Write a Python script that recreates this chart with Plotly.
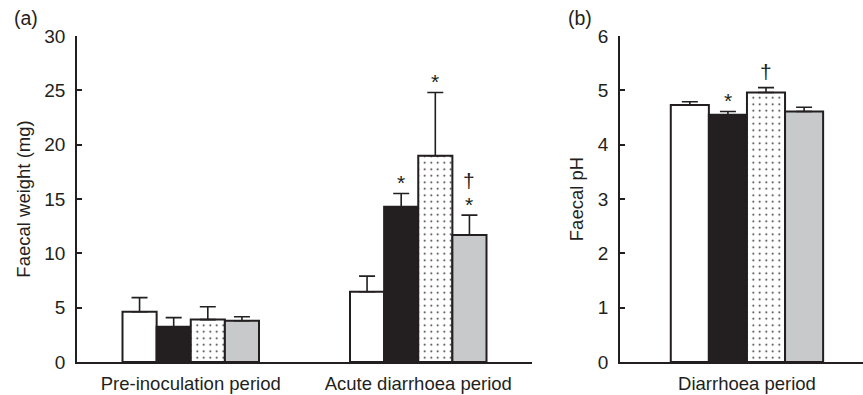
import plotly.graph_objects as go

# ---------------- data ----------------
groups_a = ["Pre-inoculation period", "Acute diarrhoea period"]
groups_b = ["Diarrhoea period"]
series = ["Group 1", "Group 2", "Group 3", "Group 4"]

weight_mean = {
    "Group 1": [4.63, 6.47],
    "Group 2": [3.25, 14.29],
    "Group 3": [3.90, 18.98],
    "Group 4": [3.80, 11.68],
}
weight_err = {
    "Group 1": [1.29, 1.43],
    "Group 2": [0.83, 1.21],
    "Group 3": [1.19, 5.82],
    "Group 4": [0.37, 1.84],
}
ph_mean = {"Group 1": [4.73], "Group 2": [4.55], "Group 3": [4.96], "Group 4": [4.61]}
ph_err = {"Group 1": [0.06], "Group 2": [0.06], "Group 3": [0.09], "Group 4": [0.08]}

# significance marks: (panel, group index, series index, symbol)
marks = [
    ("a", 1, 1, "*"),
    ("a", 1, 2, "*"),
    ("a", 1, 3, "*"),
    ("a", 1, 3, "†"),
    ("b", 0, 1, "*"),
    ("b", 0, 2, "†"),
]

# ---------------- style ----------------
INK = "#231f20"
FONT = "Liberation Sans, Arial, sans-serif"
FS = 18.5
fills = {
    "Group 1": dict(color="white"),
    "Group 2": dict(color=INK),
    "Group 3": dict(color="white", pattern=dict(shape=".", fgcolor=INK, bgcolor="white",
                                                size=6.5, solidity=0.06, fillmode="replace")),
    "Group 4": dict(color="#c8c9cb"),
}

W, H = 863, 395
top_px, bot_px = 36, 362
plot_h = bot_px - top_px

fig = go.Figure()

for s in series:
    fig.add_trace(go.Bar(
        x=list(range(len(groups_a))), y=weight_mean[s], name=s, offsetgroup=s,
        xaxis="x", yaxis="y",
        marker=dict(**fills[s], line=dict(color=INK, width=2)),
        error_y=dict(type="data", array=weight_err[s], arrayminus=[0] * len(groups_a),
                     symmetric=False, color=INK, thickness=1.6, width=8),
        showlegend=False,
    ))
for s in series:
    fig.add_trace(go.Bar(
        x=list(range(len(groups_b))), y=ph_mean[s], name=s, offsetgroup=s,
        xaxis="x2", yaxis="y2",
        marker=dict(**fills[s], line=dict(color=INK, width=2)),
        error_y=dict(type="data", array=ph_err[s], arrayminus=[0] * len(groups_b),
                     symmetric=False, color=INK, thickness=1.6, width=8),
        showlegend=False,
    ))

bargap = 0.4
bw = (1 - bargap) / len(series)

annotations = []
stack = {}
for panel, g, si, sym in marks:
    s = series[si]
    if panel == "a":
        top = weight_mean[s][g] + weight_err[s][g]
        xr, yr = "x", "y"
    else:
        top = ph_mean[s][g] + ph_err[s][g]
        xr, yr = "x2", "y2"
    key = (panel, g, si)
    n = stack.get(key, 0)
    stack[key] = n + 1
    shift = (11 if sym == "*" else 16) + n * 19
    annotations.append(dict(
        x=g + (si - (len(series) - 1) / 2) * bw, y=top, xref=xr, yref=yr,
        text=sym, showarrow=False, yanchor="middle", yshift=shift,
        font=dict(family=FONT, size=21, color=INK),
    ))

label_y = 1 + (top_px - 18) / plot_h
annotations += [
    dict(text="(a)", x=12 / W, y=label_y, xref="paper", yref="paper", xanchor="left",
         yanchor="middle", showarrow=False, font=dict(family=FONT, size=19.5, color=INK)),
    dict(text="(b)", x=566 / W, y=label_y, xref="paper", yref="paper", xanchor="left",
         yanchor="middle", showarrow=False, font=dict(family=FONT, size=19.5, color=INK)),
]

axis_common = dict(showline=True, linecolor=INK, linewidth=1.5, showgrid=False, zeroline=False)

fig.update_layout(
    width=W, height=H,
    margin=dict(l=0, r=0, t=top_px, b=H - bot_px),
    paper_bgcolor="white", plot_bgcolor="white",
    barmode="group", bargap=bargap, bargroupgap=0,
    font=dict(family=FONT, size=FS, color=INK),
    annotations=annotations,
    xaxis=dict(domain=[77 / W, 532 / W], range=[-0.5, 1.5], tickvals=[0, 1], ticktext=groups_a,
               ticks="", ticklabelstandoff=4, anchor="y",
               tickfont=dict(family=FONT, size=FS, color=INK), **axis_common),
    yaxis=dict(domain=[0, 1], range=[0, 30], dtick=5, ticks="inside", ticklen=5, tickwidth=1.5,
               tickcolor=INK, ticklabelstandoff=6, anchor="x",
               tickfont=dict(family=FONT, size=19, color=INK),
               title=dict(text="Faecal weight (mg)", standoff=9,
                          font=dict(family=FONT, size=FS, color=INK)),
               **axis_common),
    xaxis2=dict(domain=[620 / W, 1.0], range=[-0.5, 0.457], tickvals=[0], ticktext=groups_b,
                ticks="", ticklabelstandoff=4, anchor="y2",
                tickfont=dict(family=FONT, size=FS, color=INK), **axis_common),
    yaxis2=dict(domain=[0, 1], range=[0, 6], dtick=1, ticks="inside", ticklen=5, tickwidth=1.5,
                tickcolor=INK, ticklabelstandoff=6, anchor="x2",
                tickfont=dict(family=FONT, size=19, color=INK),
                title=dict(text="Faecal pH", standoff=9,
                           font=dict(family=FONT, size=FS, color=INK)),
                **axis_common),
)

fig.write_html("out.html")
